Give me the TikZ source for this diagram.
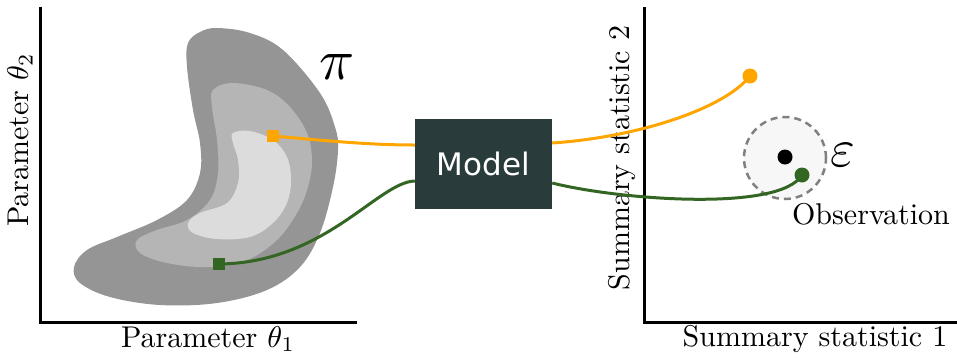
\documentclass[tikz,border=0pt]{standalone}
\usepackage{fontspec}
\newfontfamily\modelfont{DejaVu Sans}
\definecolor{orangeC}{HTML}{FFA500}
\definecolor{greenC}{HTML}{336622}
\definecolor{modelC}{HTML}{293B3B}
\definecolor{outerC}{HTML}{959595}
\definecolor{midC}{HTML}{B5B5B5}
\definecolor{innerC}{HTML}{DCDCDC}
\definecolor{ringC}{HTML}{808080}
\definecolor{ringFill}{HTML}{F7F7F7}
\tikzset{
  axis/.style={line width=3pt, black, line cap=rect},
  lab/.style={font=\fontsize{10}{12}\selectfont, inner sep=0pt, scale=3},
  bigsym/.style={font=\fontsize{10}{12}\selectfont, inner sep=0pt, scale=#1},
  sq/.style={rectangle, minimum size=12pt, inner sep=0pt, fill=#1},
  dot/.style={circle, minimum size=15pt, inner sep=0pt, fill=#1},
  curve/.style={line width=3pt, #1}
}
\begin{document}
\begin{tikzpicture}[x=1pt,y=-1pt]
\useasboundingbox (0,0) rectangle (957,357);
% posterior blob
\fill[outerC] plot[smooth cycle, tension=0.6] coordinates {(217,28) (250,33) (283,50) (320,93) (335,127) (338,150) (333,187) (320,233) (300,267) (267,290) (217,303) (160,305) (110,297) (80,283) (74,267) (87,250) (117,237) (157,220) (187,200) (200,173) (200,143) (193,110) (187,67) (188,43) (200,32)};
\fill[midC] plot[smooth cycle, tension=0.6] coordinates {(233,83) (267,90) (290,107) (307,133) (312,160) (308,187) (297,213) (277,240) (247,260) (207,267) (167,263) (140,253) (137,240) (157,230) (187,220) (210,200) (218,173) (217,140) (212,107) (213,90)};
\fill[innerC] plot[smooth cycle, tension=0.6] coordinates {(233,133) (250,131) (273,140) (287,157) (291,180) (287,203) (273,223) (250,237) (217,239) (193,233) (188,223) (200,213) (227,203) (238,183) (238,160) (233,143)};
% axes
\draw[axis] (40,8) -- (40,322) -- (355,322);
\draw[axis] (644,8) -- (644,322) -- (957,322);
% labels
\node[lab] (xl1) at (208,339) {Parameter $\theta_1$};
\node[lab, rotate=90] (yl1) at (20,140) {Parameter $\theta_2$};
\node[lab] (xl2) at (815,339) {Summary statistic 1};
\node[lab, rotate=90] (yl2) at (622,158) {Summary statistic 2};
\node[bigsym=5.8] (pi) at (337,67) {$\pi$};
% model
\node[rectangle, fill=modelC, minimum width=137pt, minimum height=90pt, inner sep=0pt, text=white, font=\modelfont\fontsize{31}{36}\selectfont] (model) at (483.5,164) {Model};
% tolerance region
\node[circle, draw=ringC, fill=ringFill, dashed, dash pattern=on 7pt off 5pt, line width=2.5pt, minimum size=82pt, inner sep=0pt] (ring) at (785,158) {};
\node[dot=black] (obs) at (785,157) {};
\node[bigsym=5.3] (eps) at (843,155) {$\varepsilon$};
\node[lab] (obsl) at (871,214) {Observation};
% named endpoints on model
\coordinate (oin) at (model.west |- 0,145);
\coordinate (gin) at (model.west |- 0,181);
\coordinate (oout) at (model.east |- 0,143);
\coordinate (gout) at (model.east |- 0,183);
% squares and dots positions
\coordinate (osqc) at (273,136);
\coordinate (gsqc) at (219,264);
\coordinate (odotc) at (750,76);
\coordinate (gdotc) at (802,175);
% curves
\draw[curve=orangeC] (osqc) .. controls (330,141) and (370,145) .. (oin);
\draw[curve=greenC] (gsqc) .. controls (325,263) and (378,182) .. (gin);
\draw[curve=orangeC] (oout) .. controls (640,137) and (725,108) .. (odotc);
\draw[curve=greenC] (gout) .. controls (620,200) and (780,212) .. (gdotc);
% markers
\node[sq=orangeC] (osq) at (osqc) {};
\node[sq=greenC] (gsq) at (gsqc) {};
\node[dot=orangeC] (odot) at (odotc) {};
\node[dot=greenC] (gdot) at (gdotc) {};
\end{tikzpicture}
\end{document}
